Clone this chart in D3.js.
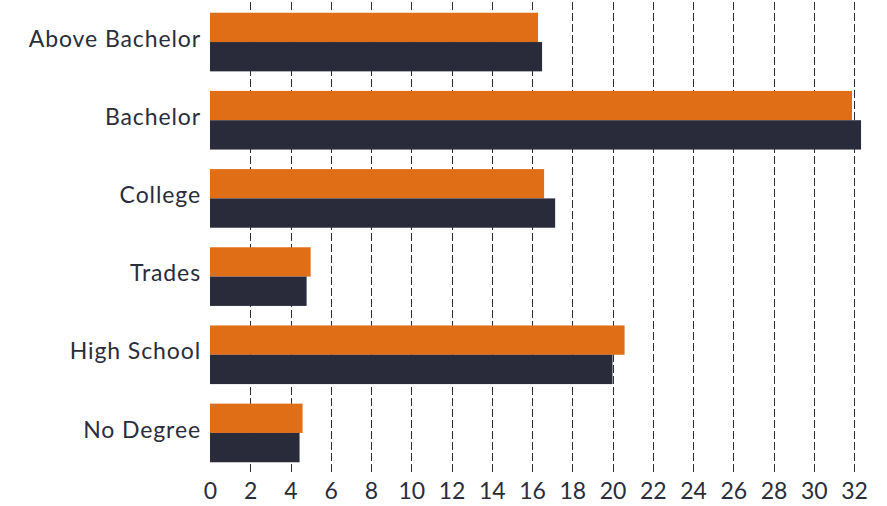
<!DOCTYPE html>
<html>
<head>
<meta charset="utf-8">
<script src="https://cdn.jsdelivr.net/npm/d3@7"></script>
<style>
  html, body { margin: 0; padding: 0; background: #ffffff; }
  svg { display: block; }
  text { font-family: Lato, "Open Sans", sans-serif; fill: #2a2d3b; }
</style>
</head>
<body>
<svg id="chart" width="887" height="506"></svg>
<script>
const categories = ["Above Bachelor", "Bachelor", "College", "Trades", "High School", "No Degree"];
const seriesNames = ["Series A", "Series B"];
const seriesA = [16.3, 31.9, 16.6, 5.0, 20.6, 4.6];   // orange
const seriesB = [16.5, 32.35, 17.15, 4.8, 20.0, 4.45]; // navy
const xTicks = [0, 2, 4, 6, 8, 10, 12, 14, 16, 18, 20, 22, 24, 26, 28, 30, 32];
const colors = ["#e06e17", "#292b3a"];

const svg = d3.select("#chart");
const margin = { left: 210, right: 33, top: 1, bottom: 32 };
const W = 887, H = 506;

const x = d3.scaleLinear().domain([0, 32]).range([margin.left, W - margin.right]);
const y = d3.scaleBand().domain(categories).range([margin.top, H - margin.bottom]).paddingInner(0.25).paddingOuter(0.15);
const ySub = d3.scaleBand().domain(seriesNames).range([0, y.bandwidth()]);

// gridlines
svg.append("g")
  .selectAll("line")
  .data(xTicks.filter(d => d > 0))
  .join("line")
  .attr("x1", d => Math.round(x(d)) + 0.5)
  .attr("x2", d => Math.round(x(d)) + 0.5)
  .attr("y1", 2)
  .attr("y2", H - margin.bottom - 2)
  .attr("stroke", "#2a2d3b")
  .attr("stroke-width", 1)
  .attr("stroke-dasharray", "8,3");

// bars
const rows = categories.map((c, i) => ({ c, vals: [seriesA[i], seriesB[i]] }));
const g = svg.append("g")
  .selectAll("g")
  .data(rows)
  .join("g")
  .attr("transform", d => `translate(0,${y(d.c)})`);

g.selectAll("rect")
  .data(d => d.vals.map((v, j) => ({ v, s: seriesNames[j], j })))
  .join("rect")
  .attr("x", x(0))
  .attr("y", d => ySub(d.s))
  .attr("height", ySub.bandwidth())
  .attr("width", d => x(d.v) - x(0))
  .attr("fill", d => colors[d.j]);

// y labels
svg.append("g")
  .selectAll("text")
  .data(categories)
  .join("text")
  .attr("x", 201)
  .attr("y", d => y(d) + y.bandwidth() / 2 - 3.5)
  .attr("dy", "0.35em")
  .attr("text-anchor", "end")
  .attr("font-size", 23)
  .attr("letter-spacing", "0.9px")
  .attr("font-weight", 400)
  .text(d => d);

// x axis labels
const xAxis = d3.axisBottom(x).tickValues(xTicks).tickSize(0).tickPadding(0).tickFormat(d3.format("d"));
const ax = svg.append("g").attr("transform", `translate(0,${H - 21})`).call(xAxis);
ax.select(".domain").remove();
ax.selectAll("text").attr("font-size", 23).attr("font-family", "Lato, sans-serif").attr("fill", "#2a2d3b").attr("dy", "0.6em");
</script>
</body>
</html>
